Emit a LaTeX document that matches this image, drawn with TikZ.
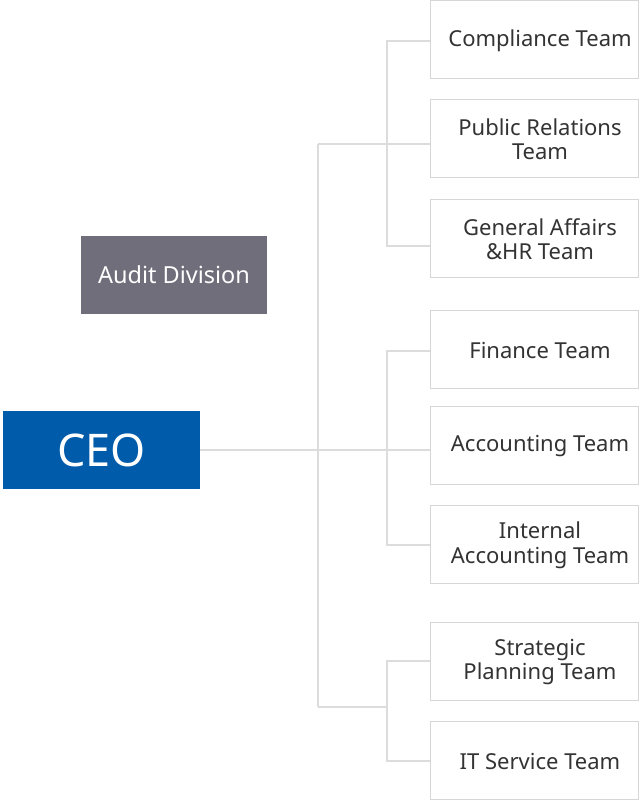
\documentclass[tikz,border=0pt]{standalone}
\usepackage{fontspec}
\setmainfont{Noto Sans}
\usetikzlibrary{positioning}

\definecolor{ceoblue}{HTML}{005BAB}
\definecolor{auditgray}{HTML}{6F6E7A}
\definecolor{linegray}{HTML}{DCDCDC}
\definecolor{boxline}{HTML}{D6D6D6}
\definecolor{textgray}{HTML}{333333}

\begin{document}
\begin{tikzpicture}[x=1pt,y=-1pt,
    team/.style={draw=boxline,line width=1pt,fill=white,minimum width=208pt,
      minimum height=78pt,inner sep=0pt,
      label={[teamtext]center:#1}},
    teamtext/.style={align=center,text=textgray,inner sep=0pt,xshift=6pt,yshift=-1pt,
      font=\fontsize{22}{24.5}\selectfont},
    head/.style={minimum height=78pt,inner sep=0pt,text=white},
    link/.style={draw=linegray,line width=2pt}]
  \useasboundingbox (0,0) rectangle (640,800);

  % top of the chart
  \node[head,fill=ceoblue,minimum width=197pt,font=\fontsize{45}{50}\selectfont] (ceo) at (101.5,450) {CEO};
  \node[head,fill=auditgray,minimum width=186pt,font=\fontsize{23.5}{26}\selectfont] (audit) at (174,275) {Audit Division};

  % teams
  \node[team={Compliance Team}] (comp) at (534,39.5) {};
  \node[team={Public Relations\\Team}] (pr) at (534,138) {};
  \node[team={General Affairs\\\&HR Team}] (ga) at (534,238) {};
  \node[team={Finance Team}] (fin) at (534,349.5) {};
  \node[team={Accounting Team}] (acc) at (534,445.5) {};
  \node[team={Internal\\Accounting Team}] (int) at (534,544.5) {};
  \node[team={Strategic\\Planning Team}] (strat) at (534,661) {};
  \node[team={IT Service Team}] (it) at (534,760.5) {};

  \coordinate (top) at (318,144);
  \coordinate (bottom) at (318,707);
  \coordinate (bus) at (387,0);

  % trunk
  \draw[link] (ceo.east) -- (ceo.east -| acc.west);
  \draw[link] (top) -- (bottom);

  % first group
  \draw[link] (top) -- ([yshift=-6pt]pr.west);
  \draw[link] ([yshift=-2pt]comp.west) -- ([yshift=-2pt]comp.west -| bus)
    -- ([yshift=-8pt]ga.west -| bus) -- ([yshift=-8pt]ga.west);

  % second group
  \draw[link] ([yshift=-1pt]fin.west) -- ([yshift=-1pt]fin.west -| bus)
    -- (int.west -| bus) -- (int.west);

  % third group
  \draw[link] (strat.west) -| (bus |- it.west) -- (it.west);
  \draw[link] (bottom) -- (bottom -| bus);
\end{tikzpicture}
\end{document}
